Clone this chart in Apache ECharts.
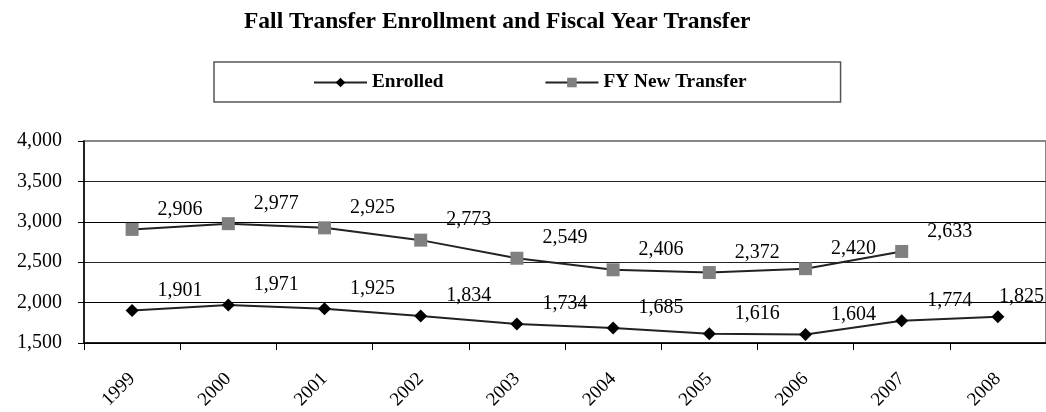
<!DOCTYPE html>
<html>
<head>
<meta charset="utf-8">
<script src="https://cdn.jsdelivr.net/npm/echarts@6/dist/echarts.min.js"></script>
<style>
html,body{margin:0;padding:0;background:#fff;}
#chart{width:1046px;height:412px;}
</style>
</head>
<body>
<div id="chart"></div>
<script>
const categories = ['1999','2000','2001','2002','2003','2004','2005','2006','2007','2008'];
const enrolled = [1901, 1971, 1925, 1834, 1734, 1685, 1616, 1604, 1774, 1825];
const fyNewTransfer = [2906, 2977, 2925, 2773, 2549, 2406, 2372, 2420, 2633, null];
const yTicks = { min: 1500, max: 4000, interval: 500 };

const FONT = '"Liberation Serif", "Times New Roman", serif';
const W = 1046;
const LABEL_DX = 48, LABEL_DY = -20;
const fmt = v => Number(v).toLocaleString('en-US');

const chart = echarts.init(document.getElementById('chart'), null, { renderer: 'canvas' });

const labelCfg = {
  show: true,
  position: 'inside',
  color: '#000',
  fontFamily: FONT,
  fontSize: 20,
  formatter: p => fmt(p.value)
};
// keep data labels inside the chart area (as the spreadsheet does)
const labelLayout = p => {
  const r = p.labelRect;
  let dx = LABEL_DX;
  if (r.x + dx + r.width > W - 2) dx = W - 2 - r.width - r.x;
  return { dx: dx, dy: LABEL_DY };
};

chart.setOption({
  animation: false,
  backgroundColor: '#fff',
  title: {
    text: 'Fall Transfer Enrollment and Fiscal Year Transfer',
    left: 239,
    top: 5,
    textStyle: { fontFamily: FONT, fontSize: 23.5, fontWeight: 'bold', color: '#000' }
  },
  legend: {
    left: 214,
    top: 62,
    padding: [11, 94, 10, 99],
    itemGap: 101,
    itemWidth: 53,
    itemHeight: 12,
    borderColor: '#555',
    borderWidth: 1.5,
    backgroundColor: '#fff',
    textStyle: { fontFamily: FONT, fontSize: 19.3, fontWeight: 'bold', color: '#000' },
    data: ['Enrolled', 'FY New Transfer']
  },
  grid: {
    left: 84,
    top: 141,
    width: 970,
    height: 202,
    show: true,
    borderColor: '#888',
    borderWidth: 2,
    backgroundColor: 'transparent',
    containLabel: false
  },
  xAxis: {
    type: 'category',
    data: categories,
    boundaryGap: true,
    axisLine: { lineStyle: { color: '#000', width: 1.5 } },
    axisTick: { show: true, length: 7, inside: false, lineStyle: { color: '#000', width: 1 } },
    axisLabel: { rotate: 45, margin: 33, interval: 0, fontFamily: FONT, fontSize: 19, color: '#000' },
    splitLine: { show: false }
  },
  yAxis: {
    type: 'value',
    min: yTicks.min,
    max: yTicks.max,
    interval: yTicks.interval,
    axisLine: { show: true, lineStyle: { color: '#000', width: 1.5 } },
    axisTick: { show: true, length: 6, lineStyle: { color: '#000' } },
    axisLabel: { margin: 22, fontFamily: FONT, fontSize: 20, color: '#000', formatter: v => fmt(v) },
    splitLine: { show: true, lineStyle: { color: ['#000', '#000', '#222', '#000', '#222', 'rgba(0,0,0,0)'], width: 1 } }
  },
  series: [
    {
      name: 'Enrolled',
      type: 'line',
      data: enrolled,
      symbol: 'diamond',
      symbolSize: 13,
      itemStyle: { color: '#000' },
      lineStyle: { color: '#222', width: 2 },
      label: labelCfg,
      labelLayout: labelLayout,
      z: 3
    },
    {
      name: 'FY New Transfer',
      type: 'line',
      data: fyNewTransfer,
      symbol: 'rect',
      symbolSize: 13,
      itemStyle: { color: '#808080' },
      lineStyle: { color: '#222', width: 2 },
      label: labelCfg,
      labelLayout: labelLayout,
      z: 3
    }
  ]
});
</script>
</body>
</html>
